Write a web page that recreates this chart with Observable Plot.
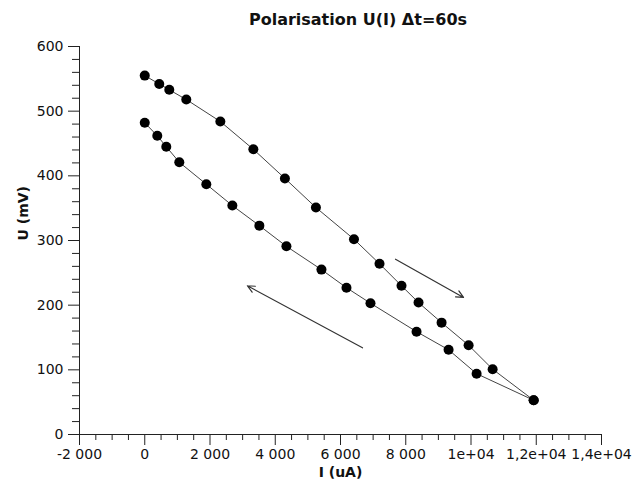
<!DOCTYPE html>
<html>
<head>
<meta charset="utf-8">
<script src="https://cdn.jsdelivr.net/npm/d3@7"></script>
<script src="https://cdn.jsdelivr.net/npm/@observablehq/plot@0.6"></script>
<style>
  body { margin: 0; background: #fff; }
  #wrap { width: 638px; font-family: "DejaVu Sans", sans-serif; color: #111; }
  #title { height: 36px; line-height: 40px; padding-left: 78px; text-align: center; font-weight: bold; font-size: 16px; box-sizing: border-box; }
</style>
</head>
<body>
<div id="wrap">
  <div id="title">Polarisation U(I) Δt=60s</div>
  <div id="chart"></div>
</div>
<script>
// Forward sweep (increasing current)
const upperI = [0, 445, 752, 1273, 2317, 3329, 4296, 5247, 6413, 7196, 7870, 8392, 9098, 9927, 10663, 11921];
const upperU = [555, 542, 533, 518, 484, 441, 396, 351, 302, 264, 230, 204, 173, 138, 101, 53];
// Return sweep (decreasing current)
const lowerI = [11921, 10172, 9313, 8331, 6919, 6183, 5416, 4342, 3513, 2685, 1887, 1059, 660, 384, 0];
const lowerU = [53, 94, 131, 159, 203, 227, 255, 291, 323, 354, 387, 421, 445, 462, 482];
// Direction arrows (data units)
const arrowX1 = [7686, 6674];
const arrowY1 = [271, 134];
const arrowX2 = [9771, 3145];
const arrowY2 = [212, 230];
// Axis ticks
const xTicks = [-2000, 0, 2000, 4000, 6000, 8000, 10000, 12000, 14000];
const xTickLabels = ["-2 000", "0", "2 000", "4 000", "6 000", "8 000", "1e+04", "1,2e+04", "1,4e+04"];
const yTicks = [0, 100, 200, 300, 400, 500, 600];
const yTickLabels = ["0", "100", "200", "300", "400", "500", "600"];

const upper = upperI.map((v, i) => ({I: v, U: upperU[i]}));
const lower = lowerI.map((v, i) => ({I: v, U: lowerU[i]}));
const arrows = arrowX1.map((v, i) => ({x1: v, y1: arrowY1[i], x2: arrowX2[i], y2: arrowY2[i]}));
const xMinor = d3.range(-2000, 14001, 500).filter(v => v % 2000 !== 0);
const yMinor = d3.range(0, 601, 20).filter(v => v % 100 !== 0);
const xFmt = d => xTickLabels[xTicks.indexOf(d)];
const yFmt = d => yTickLabels[yTicks.indexOf(d)];

const chart = Plot.plot({
  width: 638,
  height: 447,
  marginTop: 10,
  marginBottom: 49,
  marginLeft: 79,
  marginRight: 37,
  style: {fontFamily: "DejaVu Sans, sans-serif", fontSize: "14px", color: "#111", background: "#fff"},
  x: {domain: [-2000, 14000]},
  y: {domain: [0, 600]},
  marks: [
    Plot.axisX({ticks: xMinor, tickSize: 6, tickFormat: () => "", label: null, stroke: "#222"}),
    Plot.axisX({ticks: xTicks, tickSize: 11, tickPadding: 4, tickFormat: xFmt, label: null, stroke: "#222", fontSize: 14}),
    Plot.axisY({ticks: yMinor, tickSize: 7, tickFormat: () => "", label: null, stroke: "#222"}),
    Plot.axisY({ticks: yTicks, tickSize: 11, tickPadding: 5, tickFormat: yFmt, label: null, stroke: "#222", fontSize: 14}),
    Plot.ruleY([0], {stroke: "#222"}),
    Plot.ruleX([-2000], {stroke: "#222"}),
    Plot.text(["I (uA)"], {frameAnchor: "bottom", dy: 42, fontWeight: "bold", fontSize: 14}),
    Plot.text(["U (mV)"], {frameAnchor: "left", dx: -56, rotate: -90, fontWeight: "bold", fontSize: 14}),
    Plot.line(upper, {x: "I", y: "U", stroke: "#444", strokeWidth: 1}),
    Plot.line(lower, {x: "I", y: "U", stroke: "#444", strokeWidth: 1}),
    Plot.dot(upper, {x: "I", y: "U", r: 5, fill: "#000"}),
    Plot.dot(lower, {x: "I", y: "U", r: 5, fill: "#000"}),
    Plot.arrow(arrows, {x1: "x1", y1: "y1", x2: "x2", y2: "y2", stroke: "#333", strokeWidth: 1.2, headLength: 10, headAngle: 50})
  ]
});
document.getElementById("chart").appendChild(chart);
</script>
</body>
</html>
